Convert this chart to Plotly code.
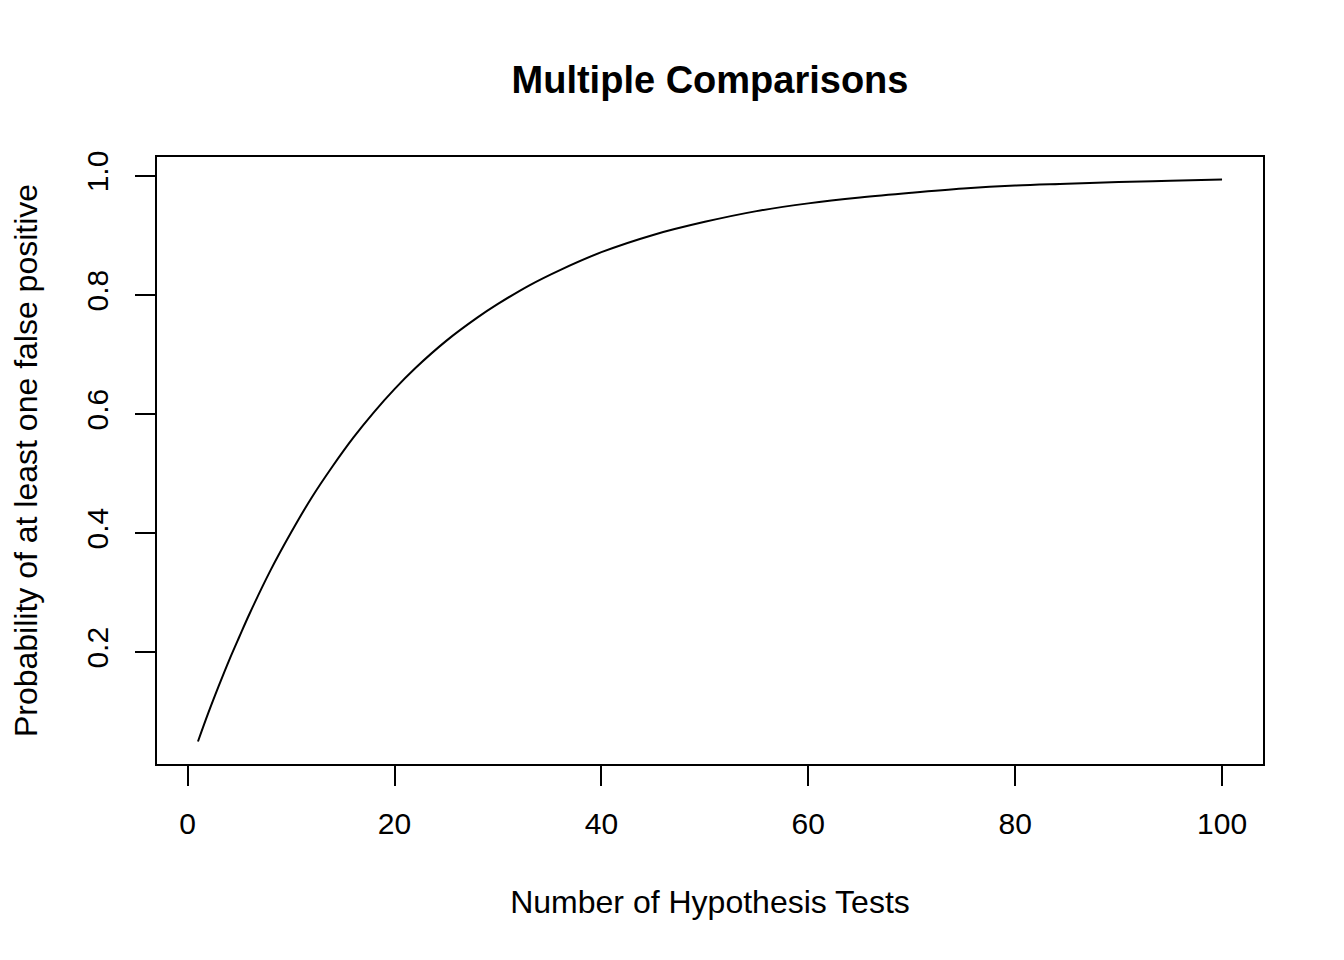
import plotly.graph_objects as go

# number of tests and the probability
n_tests = [1, 2, 3, 4, 5, 6, 8, 10, 12, 14, 16, 18, 20, 22, 25, 28, 30, 33, 36,
           40, 45, 50, 55, 60, 65, 70, 75, 80, 85, 90, 95, 100]
p_false_pos = [0.050, 0.098, 0.143, 0.186, 0.226, 0.265, 0.337, 0.401, 0.460,
               0.512, 0.560, 0.603, 0.642, 0.677, 0.723, 0.762, 0.785, 0.816,
               0.842, 0.872, 0.901, 0.923, 0.941, 0.954, 0.964, 0.972, 0.979,
               0.984, 0.987, 0.990, 0.992, 0.994]

x_ticks = [0, 20, 40, 60, 80, 100]
y_ticks = [0.2, 0.4, 0.6, 0.8, 1.0]
y_tick_text = ["0.2", "0.4", "0.6", "0.8", "1.0"]

FONT = "Liberation Sans, Arial, sans-serif"
OFF = 8  # page body margin in the browser

fig = go.Figure()
fig.add_trace(go.Scatter(x=n_tests, y=p_false_pos, mode="lines",
                         line=dict(color="black", width=2, shape="spline"),
                         showlegend=False, hoverinfo="x+y"))

axis_common = dict(showline=True, linecolor="black", linewidth=1.8, mirror=True,
                   ticks="outside", ticklen=20, tickwidth=1.8, tickcolor="black",
                   showgrid=False, zeroline=False, fixedrange=True,
                   tickfont=dict(family=FONT, size=30, color="black"))

fig.update_xaxes(range=[-2.96, 103.96], tickvals=x_ticks,
                 ticklabelstandoff=12,
                 title=dict(text="Number of Hypothesis Tests", standoff=52,
                            font=dict(family=FONT, size=32, color="black")),
                 **axis_common)
fig.update_yaxes(range=[0.0122, 1.0319], tickvals=y_ticks, ticktext=y_tick_text,
                 tickangle=-90, ticklabelstandoff=15,
                 title=dict(text="Probability of at least one false positive", standoff=53,
                            font=dict(family=FONT, size=32, color="black")),
                 **axis_common)

fig.update_layout(
    width=1344, height=960,
    margin=dict(l=157 - OFF, r=81 + OFF, t=157 - OFF, b=196 + OFF, autoexpand=False),
    paper_bgcolor="white", plot_bgcolor="white",
    title=dict(text="<b>Multiple Comparisons</b>", x=(710 - OFF) / 1344, xanchor="center",
               y=1 - (80 - OFF) / 960, yanchor="middle",
               font=dict(family=FONT, size=38, color="black")),
)

fig.write_html("out.html")
